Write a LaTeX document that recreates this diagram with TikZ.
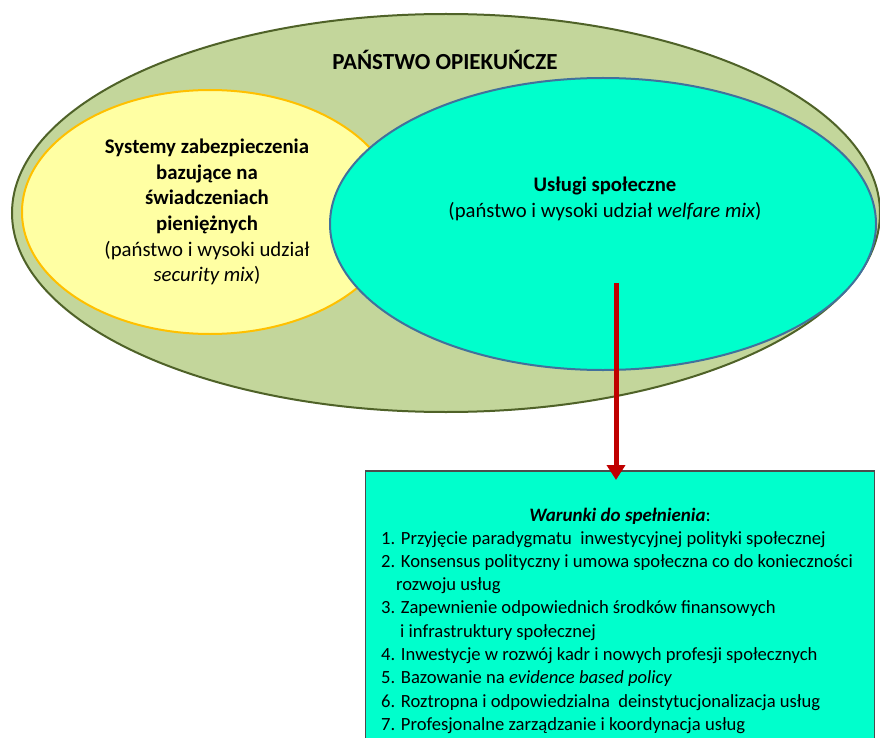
\documentclass[tikz,border=0pt]{standalone}
\usepackage{fontspec}
\setmainfont{Carlito}
\usetikzlibrary{arrows.meta,positioning,shapes.geometric}
\definecolor{stategreen}{HTML}{C3D69B}
\definecolor{stateline}{HTML}{4F6228}
\definecolor{cashyellow}{HTML}{FFFFA3}
\definecolor{cashline}{HTML}{FFC000}
\definecolor{serviceaqua}{HTML}{00FFCC}
\definecolor{serviceline}{HTML}{41719C}
\definecolor{arrowred}{HTML}{C00000}
\tikzset{stateOval/.style={ellipse,draw=stateline,fill=stategreen,line width=2pt,inner sep=0pt,minimum width=868pt,minimum height=398pt}}
\tikzset{cashOval/.style={ellipse,draw=cashline,fill=cashyellow,line width=2pt,inner sep=0pt,minimum width=376pt,minimum height=244pt}}
\tikzset{serviceOval/.style={ellipse,draw=serviceline,fill=serviceaqua,line width=2pt,inner sep=0pt,minimum width=546pt,minimum height=292pt}}
\tikzset{condbox/.style={rectangle,draw=black!70,fill=serviceaqua,line width=1.5pt,inner sep=0pt,minimum width=509pt,minimum height=320pt}}
\tikzset{ovaltext/.style={align=center,inner sep=0pt,font=\fontsize{20.8}{25.6}\selectfont}}
\tikzset{listtext/.style={anchor=base west,inner sep=0pt,font=\fontsize{18.6}{23.3}\selectfont}}
\tikzset{downArrow/.style={-{Triangle[length=15pt,width=18pt]},line width=5pt,draw=arrowred}}

\begin{document}
\begin{tikzpicture}[x=1pt,y=-1pt]
\useasboundingbox (0,0) rectangle (880,738);
\clip (0,0) rectangle (880,738);
	\node (state) [stateOval] at (446,213) {} ;
	\node (statetitle) [ovaltext,font=\fontsize{23}{26}\selectfont\bfseries] at (445,60) {PAŃSTWO OPIEKUŃCZE} ;
	\node (cash) [cashOval] at (210,212) {} ;
	\node (cashtext) [ovaltext] at (207,212) {\textbf{Systemy zabezpieczenia}\\\textbf{bazujące na}\\\textbf{świadczeniach}\\\textbf{pieniężnych}\\(państwo i wysoki udział\\\textit{security mix})} ;
	\node (services) [serviceOval] at (603,224) {} ;
	\node (servicetext) [ovaltext,font=\fontsize{20.7}{26}\selectfont] at (605,199) {\textbf{Usługi społeczne}\\(państwo i wysoki udział \textit{welfare mix})} ;
	\node (conditions) [condbox,anchor=north] at (620,470) {} ;
	\node (condtitle) [inner sep=0pt,font=\fontsize{19}{23}\selectfont] at (620,516) {\textbf{\textit{Warunki do spełnienia}}:} ;
	\foreach \ypos/\xpos/\txt in {544/381/{1. Przyjęcie paradygmatu\ \ inwestycyjnej polityki społecznej},
		567.3/381/{2. Konsensus polityczny i umowa społeczna co do konieczności},
		590.6/396/{rozwoju usług},
		613.9/381/{3. Zapewnienie odpowiednich środków finansowych},
		637.2/400/{i infrastruktury społecznej},
		660.5/381/{4. Inwestycje w rozwój kadr i nowych profesji społecznych},
		683.8/381/{5. Bazowanie na \textit{evidence based policy}},
		707.1/381/{6. Roztropna i odpowiedzialna\ \ deinstytucjonalizacja usług},
		730.4/381/{7. Profesjonalne zarządzanie i koordynacja usług}}
		\node (cond\ypos) [listtext] at (\xpos,\ypos) {\txt} ;
	\coordinate (arrowtop) at (616,283) ;
	\draw [downArrow,shorten >=-10pt] (arrowtop) -- (arrowtop |- conditions.north) ;
\end{tikzpicture}
\end{document}
